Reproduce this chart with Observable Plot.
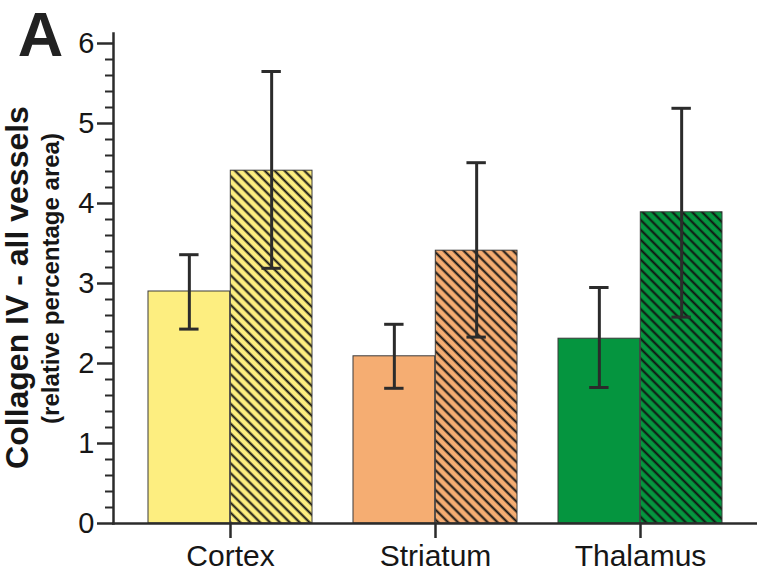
<!DOCTYPE html>
<html><head><meta charset="utf-8">
<script src="https://cdn.jsdelivr.net/npm/d3@7"></script>
<script src="https://cdn.jsdelivr.net/npm/@observablehq/plot@0.6"></script>
<style>body{margin:0;background:#fff}</style>
</head><body><div id="chart"></div>
<script>
const regions = ["Cortex", "Striatum", "Thalamus"];
const regionColors = ["#FDEE80", "#F5AD72", "#05953F"];
const plainMean = [2.90, 2.09, 2.31];
const plainLow  = [2.43, 1.69, 1.70];
const plainHigh = [3.36, 2.49, 2.95];
const hatchMean = [4.41, 3.41, 3.89];
const hatchLow  = [3.19, 2.33, 2.58];
const hatchHigh = [5.65, 4.51, 5.19];
const yMajorTicks = [0, 1, 2, 3, 4, 5, 6];
const yMinorTicks = [0.2,0.4,0.6,0.8,1.2,1.4,1.6,1.8,2.2,2.4,2.6,2.8,3.2,3.4,3.6,3.8,4.2,4.4,4.6,4.8,5.2,5.4,5.6,5.8];
const panelLetter = "A";
const yTitle = "Collagen IV - all vessels";
const ySubtitle = "(relative percentage area)";

const W = 757, H = 571, mL = 113, mR = 0, mT = 33, mB = 48;
const padIn = 0.2, padOut = 0.165;
const bw = d3.scaleBand().domain(regions).range([mL, W - mR]).paddingInner(padIn).paddingOuter(padOut).bandwidth();
const half = bw / 2;
const capHalf = 10;
const midY = mT + (H - mT - mB) / 2;

const plainRows = regions.map((r, i) => ({region: r, mean: plainMean[i], lo: plainLow[i], hi: plainHigh[i]}));
const hatchRows = regions.map((r, i) => ({region: r, mean: hatchMean[i], lo: hatchLow[i], hi: hatchHigh[i]}));
const ink = "#2b2b2b";
const textInk = "#161616";

const plot = Plot.plot({
  width: W, height: H,
  marginLeft: mL, marginRight: mR, marginTop: mT, marginBottom: mB,
  style: {fontFamily: "'Liberation Sans', Arial, sans-serif", color: textInk, background: "#fff", overflow: "visible"},
  x: {domain: regions, paddingInner: padIn, paddingOuter: padOut, label: null},
  y: {domain: [0, 6.125], label: null},
  color: {domain: regions, range: regionColors},
  marks: [
    Plot.barY(plainRows, {x: "region", y: "mean", fill: "region", insetRight: half}),
    Plot.barY(hatchRows, {x: "region", y: "mean", fill: "region", insetLeft: half}),
    Plot.barY(hatchRows, {x: "region", y: "mean", fill: "url(#hatch)", insetLeft: half}),
    Plot.barY(plainRows, {x: "region", y: "mean", fill: "none", stroke: "#3a3a3a", strokeWidth: 1, insetRight: half}),
    Plot.barY(hatchRows, {x: "region", y: "mean", fill: "none", stroke: "#3a3a3a", strokeWidth: 1, insetLeft: half}),
    Plot.ruleX(plainRows, {x: "region", y1: "lo", y2: "hi", dx: -half / 2, stroke: ink, strokeWidth: 3}),
    Plot.ruleX(hatchRows, {x: "region", y1: "lo", y2: "hi", dx: half / 2, stroke: ink, strokeWidth: 3}),
    Plot.tickY(plainRows, {x: "region", y: "hi", stroke: ink, strokeWidth: 3, insetLeft: half / 2 - capHalf, insetRight: bw - half / 2 - capHalf}),
    Plot.tickY(plainRows, {x: "region", y: "lo", stroke: ink, strokeWidth: 3, insetLeft: half / 2 - capHalf, insetRight: bw - half / 2 - capHalf}),
    Plot.tickY(hatchRows, {x: "region", y: "hi", stroke: ink, strokeWidth: 3, insetLeft: half + half / 2 - capHalf, insetRight: half / 2 - capHalf}),
    Plot.tickY(hatchRows, {x: "region", y: "lo", stroke: ink, strokeWidth: 3, insetLeft: half + half / 2 - capHalf, insetRight: half / 2 - capHalf}),
    Plot.frame({anchor: "left", stroke: ink, strokeWidth: 2.5}),
    Plot.frame({anchor: "bottom", stroke: ink, strokeWidth: 2.5}),
    Plot.axisY({ticks: yMajorTicks, tickSize: 16, tickPadding: 3, fontSize: 29, strokeWidth: 2.5, stroke: ink, tickFormat: d3.format("d"), label: null}),
    Plot.axisY({ticks: yMinorTicks, tickSize: 8, strokeWidth: 2, stroke: ink, tickFormat: () => "", label: null}),
    Plot.axisX({tickSize: 15, tickPadding: 6, fontSize: 30, strokeWidth: 2.5, stroke: ink, label: null}),
    Plot.text([panelLetter], {text: d => d, frameAnchor: "top-left", dx: 40 - mL, dy: 35 - mT, fontSize: 63, fontWeight: "bold", fill: "#222", textAnchor: "middle", lineAnchor: "middle"}),
    Plot.text([yTitle], {text: d => d, frameAnchor: "left", rotate: -90, dx: 17 - mL, dy: 287 - midY, fontSize: 32, fontWeight: "bold", fill: textInk, textAnchor: "middle", lineAnchor: "middle"}),
    Plot.text([ySubtitle], {text: d => d, frameAnchor: "left", rotate: -90, dx: 51 - mL, dy: 278 - midY, fontSize: 24, fontWeight: "bold", fill: textInk, textAnchor: "middle", lineAnchor: "middle"})
  ]
});

const defs = d3.select(plot).insert("defs", ":first-child");
const pat = defs.append("pattern").attr("id", "hatch").attr("patternUnits", "userSpaceOnUse")
  .attr("width", 7).attr("height", 7).attr("patternTransform", "rotate(-45)");
pat.append("line").attr("x1", 3.5).attr("y1", -1).attr("x2", 3.5).attr("y2", 8)
  .attr("stroke", "#111").attr("stroke-width", 2);

document.getElementById("chart").appendChild(plot);
</script>
</body></html>
